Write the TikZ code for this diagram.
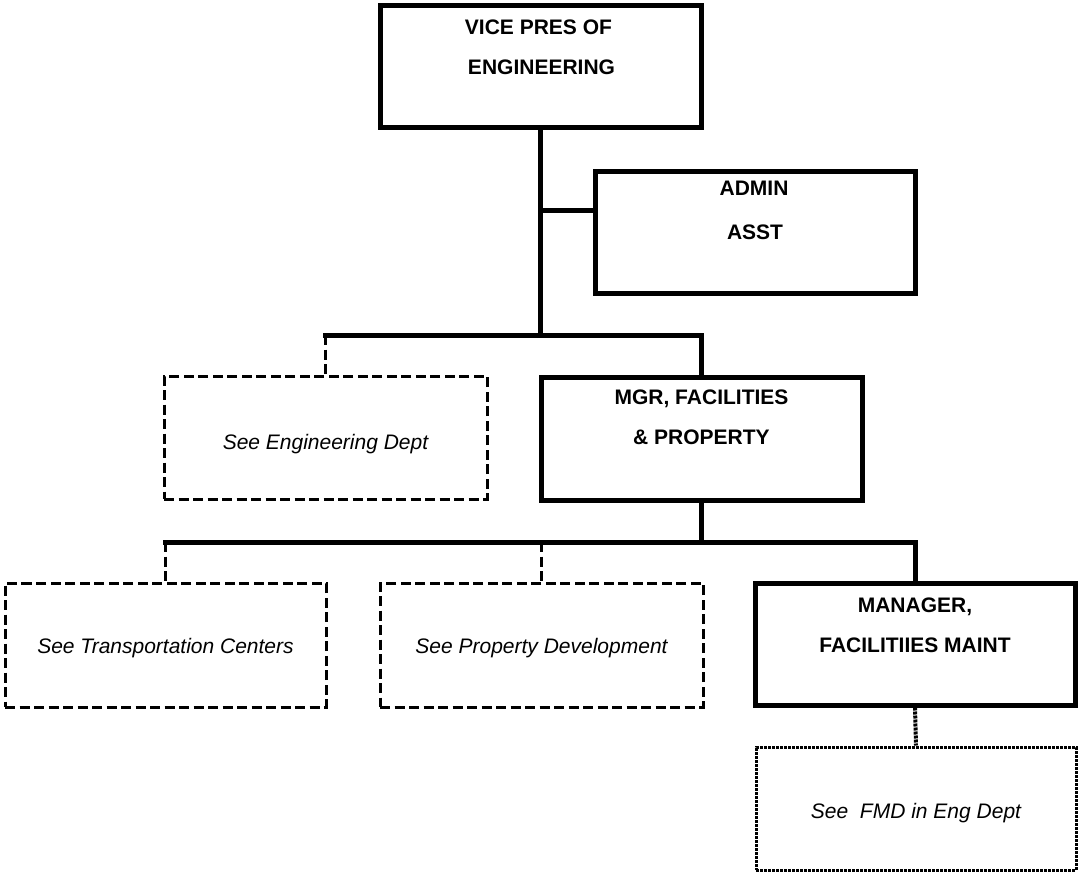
\documentclass[tikz,border=0pt]{standalone}
\usepackage{fontspec}
\setmainfont{Liberation Sans}
\usetikzlibrary{calc}

\tikzset{
  unitbox/.style={draw=black, line width=5pt, inner sep=0pt, fill=white},
  refbox/.style={draw=black, line width=3pt, inner sep=0pt,
                 dash pattern=on 10pt off 4.5pt},
  fmdbox/.style={draw=black, line width=3pt, inner sep=0pt,
                 dash pattern=on 3pt off 1pt},
  conn/.style={draw=black, line width=5pt},
  refconn/.style={draw=black, line width=3pt, dash pattern=on 10pt off 4.5pt},
  fmdconn/.style={draw=black, line width=4pt, dash pattern=on 3pt off 1pt},
  titletext/.style={anchor=base, inner sep=0pt,
                    font=\fontsize{21}{25}\selectfont\bfseries},
  seetext/.style={anchor=base, inner sep=0pt,
                  font=\fontsize{21}{25}\selectfont\itshape},
}

\begin{document}
\begin{tikzpicture}[x=1pt, y=-1pt]
  \path[use as bounding box, fill=white] (0,0) rectangle (1079,873);

  % junction heights of the two bars and the assistant branch
  \coordinate (bar1) at (0,335);
  \coordinate (bar2) at (0,542);
  \coordinate (admjoin) at (595,210);

  % boxes
  \node[unitbox, minimum width=321pt, minimum height=122pt] (vp)    at (540.5,66)   {};
  \node[unitbox, minimum width=320pt, minimum height=122pt] (adm)   at (755,232)    {};
  \node[refbox,  minimum width=323pt, minimum height=123pt] (eng)   at (325.5,437.5){};
  \node[unitbox, minimum width=321pt, minimum height=123pt] (mgr)   at (701.5,438.5){};
  \node[refbox,  minimum width=321pt, minimum height=124pt] (trans) at (165.5,645)  {};
  \node[refbox,  minimum width=323pt, minimum height=124pt] (prop)  at (541.5,645)  {};
  \node[unitbox, minimum width=320pt, minimum height=122pt] (mfm)   at (915,644)    {};
  \node[fmdbox,  minimum width=320pt, minimum height=123pt] (fmd)   at (916,808.5)  {};

  % VP down to first bar, branch to admin assistant
  \draw[conn] (vp.south) -- (vp.south |- bar1);
  \draw[conn] (vp.south |- admjoin) -- (admjoin);
  \draw[conn, line cap=rect] (eng.north |- bar1) -| (mgr.north);
  \draw[refconn] (eng.north |- bar1) -- (eng.north);

  % manager of facilities down to second bar
  \draw[conn] (mgr.south) -- (mgr.south |- bar2);
  \draw[conn, line cap=rect] (trans.north |- bar2) -| (mfm.north);
  \draw[refconn] (trans.north |- bar2) -- (trans.north);
  \draw[refconn] (prop.north |- bar2) -- (prop.north);
  \draw[fmdconn] (mfm.south) -- (fmd.north);

  % titles
  \node[titletext] (vpA)  at ($(vp.north)+(-2,32)$)  {VICE PRES OF};
  \node[titletext] (vpB)  at ($(vp.north)+(1,72)$)   {ENGINEERING};
  \node[titletext] (admA) at ($(adm.north)+(-1,27)$) {ADMIN};
  \node[titletext] (admB) at ($(adm.north)+(0,71)$)  {ASST};
  \node[titletext] (mgrA) at ($(mgr.north)+(0,30)$)  {MGR, FACILITIES};
  \node[titletext] (mgrB) at ($(mgr.north)+(0,70)$)  {\& PROPERTY};
  \node[titletext] (mfmA) at ($(mfm.north)+(0,32)$)  {MANAGER,};
  \node[titletext] (mfmB) at ($(mfm.north)+(0,72)$)  {FACILITIIES MAINT};

  % cross references
  \node[seetext] (engT)   at ($(eng.center)+(0,12)$)   {See Engineering Dept};
  \node[seetext] (transT) at ($(trans.center)+(0,8)$)  {See Transportation Centers};
  \node[seetext] (propT)  at ($(prop.center)+(0,8)$)   {See Property Development};
  \node[seetext] (fmdT)   at ($(fmd.center)+(0,9.5)$)  {See\ \ FMD in Eng Dept};
\end{tikzpicture}
\end{document}
